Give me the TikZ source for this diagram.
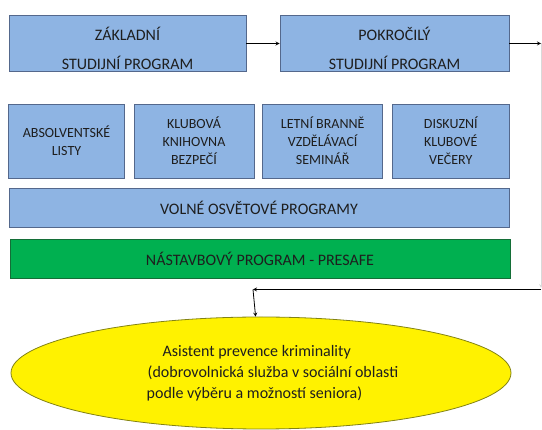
\documentclass[tikz,border=0pt]{standalone}
\usepackage{fontspec}
\setmainfont{Carlito}
\usetikzlibrary{shapes.geometric}
\definecolor{progblue}{RGB}{142,180,227}
\definecolor{progline}{RGB}{84,104,140}
\definecolor{progtext}{RGB}{30,30,30}
\definecolor{presafe}{RGB}{0,176,80}
\definecolor{presafeline}{RGB}{20,110,55}
\definecolor{olive line}{RGB}{130,130,20}

\begin{document}
\begin{tikzpicture}[-,>=stealth,x=1pt,y=-1pt,auto,line width=0.8pt,big node/.style={draw=progline,fill=progblue,text=progtext,align=center,inner sep=0pt,font=\fontsize{16}{19}\selectfont},small node/.style={draw=progline,fill=progblue,text=progtext,align=center,inner sep=0pt,minimum height=74pt,font=\fontsize{14}{18}\selectfont}]

            \useasboundingbox (0,0) rectangle (542,430);

            \node[big node, minimum width=237pt, minimum height=56pt] (1) at (127.5,43.5) {\rule{0pt}{23pt}ZÁKLADNÍ\\[10pt]STUDIJNÍ PROGRAM};
            \node[big node, minimum width=229pt, minimum height=56pt] (2) at (394.5,43.5) {\rule{0pt}{23pt}POKROČILÝ\\[10pt]STUDIJNÍ PROGRAM};

            \node[small node, minimum width=116pt] (3) at (66.5,141) {ABSOLVENTSKÉ\\LISTY};
            \node[small node, minimum width=120pt] (4) at (194,141) {KLUBOVÁ\\KNIHOVNA\\BEZPEČÍ};
            \node[small node, minimum width=120pt] (5) at (322.7,141) {LETNÍ BRANNĚ\\VZDĚLÁVACÍ\\SEMINÁŘ};
            \node[small node, minimum width=117pt] (6) at (450.8,141) {DISKUZNÍ\\KLUBOVÉ\\VEČERY};

            \node[big node, minimum width=500pt, minimum height=39pt] (7) at (259,207.5) {VOLNÉ OSVĚTOVÉ PROGRAMY};
            \node[big node, draw=presafeline, fill=presafe, minimum width=500pt, minimum height=39pt] (8) at (260,258.5) {NÁSTAVBOVÝ PROGRAM - PRESAFE};

            \node[ellipse, draw=olive line, fill=yellow, text=progtext, align=left, inner sep=0pt, minimum width=500pt, minimum height=112pt, font=\fontsize{16}{21}\selectfont] (9) at (261,373) {\hspace*{39pt}Asistent prevence kriminality\\\hspace*{24pt}(dobrovolnická služba v sociální oblasti\\\hspace*{23pt}podle výběru a možností seniora)};

            \coordinate (10) at (541,43.5);
            \coordinate (11) at (541,288);
            \coordinate (12) at (253,289.5);

            \draw[->] (1) to (2);
            \draw[->] (2) to (10);
            \draw[->, draw=black!15] (10) to (11);
            \draw[->] (11 |- 12) to (12);
            \draw[->] (12) to (9);

            ;
        \end{tikzpicture}
\end{document}
